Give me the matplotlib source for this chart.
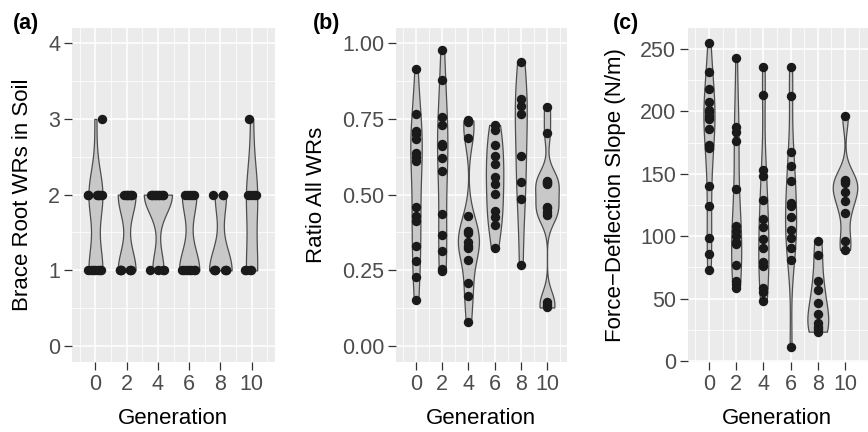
import numpy as np
import matplotlib
matplotlib.use("Agg")
import matplotlib.pyplot as plt
from matplotlib import cbook
from matplotlib.ticker import MultipleLocator, FormatStrFormatter

plt.rcParams['font.family'] = ['Liberation Sans', 'DejaVu Sans']

gens = [0, 2, 4, 6, 8, 10]

# (a) brace root WRs in soil, integer counts, jittered sideways
a_vals = [
    [1, 1, 1, 1, 1, 1, 1, 2, 2, 2, 2, 2, 2, 2, 3],
    [1, 1, 1, 1, 1, 1, 1, 2, 2, 2, 2, 2, 2, 2],
    [1, 1, 1, 1, 2, 2, 2, 2, 2, 2, 2, 2, 2, 2],
    [1, 1, 1, 1, 1, 1, 1, 2, 2, 2, 2, 2],
    [1, 1, 1, 1, 1, 1, 2, 2, 2],
    [1, 1, 1, 1, 2, 2, 2, 2, 3],
]
a_jit = [
    [-0.46, -0.30, -0.15, 0.0, 0.15, 0.28, 0.35, -0.47, -0.45, 0.13, 0.18, 0.25, 0.33, 0.41, 0.43],
    [-0.43, -0.40, -0.35, -0.38, 0.20, 0.23, 0.26, -0.14, -0.05, 0.0, 0.10, 0.20, 0.30, 0.35],
    [-0.49, 0.0, 0.33, 0.36, -0.46, -0.38, -0.30, -0.20, -0.10, 0.0, 0.10, 0.20, 0.30, 0.35],
    [-0.47, -0.30, -0.15, 0.0, 0.15, 0.30, 0.39, -0.25, -0.10, 0.05, 0.20, 0.32],
    [-0.38, -0.36, -0.34, 0.33, 0.36, 0.38, -0.47, 0.15, 0.17],
    [-0.39, -0.36, -0.10, -0.06, -0.21, -0.05, 0.15, 0.30, -0.17],
]

# (b) ratio all WRs
b_vals = [
    [0.914, 0.767, 0.71, 0.70, 0.683, 0.636, 0.623, 0.611, 0.46, 0.43, 0.414, 0.33, 0.282, 0.229, 0.152],
    [0.976, 0.879, 0.755, 0.73, 0.667, 0.66, 0.62, 0.579, 0.435, 0.367, 0.314, 0.253, 0.247],
    [0.745, 0.74, 0.686, 0.43, 0.381, 0.374, 0.344, 0.33, 0.323, 0.284, 0.209, 0.166, 0.08],
    [0.73, 0.714, 0.662, 0.626, 0.60, 0.559, 0.535, 0.501, 0.447, 0.425, 0.40, 0.323],
    [0.937, 0.815, 0.791, 0.765, 0.626, 0.541, 0.486, 0.268],
    [0.789, 0.704, 0.545, 0.541, 0.538, 0.535, 0.46, 0.455, 0.444, 0.433, 0.146, 0.135, 0.127],
]

# (c) force-deflection slope (N/m)
c_vals = [
    [254.6, 231.3, 217.9, 207.8, 201.4, 199.2, 196.5, 193.9, 186.1, 173.3, 170.6, 140.4, 124.3, 98.4, 85.8, 73.0],
    [242.8, 187.7, 183.2, 176.5, 138.0, 107.8, 104.3, 100.3, 95.7, 93.6, 76.7, 64.4, 61.8, 58.3],
    [235.3, 212.9, 152.7, 147.9, 129.2, 113.6, 107.2, 97.6, 90.4, 79.2, 76.2, 58.3, 55.1, 48.1],
    [235.6, 212.6, 167.1, 156.4, 144.4, 126.5, 124.3, 115.2, 105.1, 98.4, 90.4, 81.0, 11.5],
    [96.5, 84.8, 64.2, 57.0, 46.3, 37.4, 30.8, 27.5, 25.4, 23.5],
    [196.0, 144.9, 144.0, 142.5, 135.8, 128.4, 118.5, 96.5, 89.0],
]


def nrd0(x):
    sd = np.std(x, ddof=1)
    q75, q25 = np.percentile(x, [75, 25])
    lo = min(sd, (q75 - q25) / 1.34)
    if lo == 0:
        lo = sd if sd > 0 else 1.0
    return 0.9 * lo * len(x) ** -0.2


def kde(X, coords):
    bw = nrd0(X)
    z = (coords[:, None] - X[None, :]) / bw
    return np.exp(-0.5 * z ** 2).sum(axis=1) / (len(X) * bw * np.sqrt(2 * np.pi))


W, H = 868, 432


def make_ax(fig, left, right, top=28, bottom=362):
    return fig.add_axes([left / W, 1 - bottom / H, (right - left) / W, (bottom - top) / H])


def draw(ax, vals, jit=None):
    stats = cbook.violin_stats([np.asarray(v, float) for v in vals], kde, points=512)
    peaks = [s['vals'].max() for s in stats]
    widths = [1.8 * p / max(peaks) for p in peaks]
    parts = ax.violin(stats, positions=gens, widths=widths,
                      showmeans=False, showextrema=False, showmedians=False)
    for body in parts['bodies']:
        body.set_facecolor('#c8c8c8')
        body.set_edgecolor('#4d4d4d')
        body.set_linewidth(0.9)
        body.set_alpha(1)
        body.set_zorder(2)
    xs, ys = [], []
    for i, g in enumerate(gens):
        for j, v in enumerate(vals[i]):
            xs.append(g + (jit[i][j] if jit else 0))
            ys.append(v)
    ax.scatter(xs, ys, s=46, color='#1a1a1a', linewidths=0, zorder=3)


def style(ax, xlim, ylim, ymaj, ymin):
    ax.set_facecolor('#ebebeb')
    for sp in ax.spines.values():
        sp.set_visible(False)
    ax.set_xlim(*xlim)
    ax.set_ylim(*ylim)
    ax.xaxis.set_major_locator(MultipleLocator(2))
    ax.xaxis.set_minor_locator(MultipleLocator(1))
    ax.yaxis.set_major_locator(MultipleLocator(ymaj))
    ax.yaxis.set_minor_locator(MultipleLocator(ymin))
    ax.grid(which='major', color='white', linewidth=1.1)
    ax.grid(which='minor', color='white', linewidth=0.55)
    ax.set_axisbelow(True)
    ax.tick_params(which='major', direction='out', length=5.5, width=0.9,
                   color='#333333', labelcolor='#4d4d4d', labelsize=15.5, pad=3)
    ax.tick_params(which='minor', length=0)


fig = plt.figure(figsize=(W / 100, H / 100), dpi=100)

ax_a = make_ax(fig, 72, 275)
draw(ax_a, a_vals, a_jit)
style(ax_a, (-1.5, 11.5), (-0.21, 4.2), 1, 0.5)

ax_b = make_ax(fig, 396, 567)
draw(ax_b, b_vals)
style(ax_b, (-1.53, 11.53), (-0.053, 1.05), 0.25, 0.125)
ax_b.yaxis.set_major_formatter(FormatStrFormatter('%.2f'))

ax_c = make_ax(fig, 688, 868)
draw(ax_c, c_vals)
style(ax_c, (-1.54, 11.69), (-0.8, 266.8), 50, 25)

for x, lab in [(13, '(a)'), (313, '(b)'), (613, '(c)')]:
    fig.text(x / W, 1 - 23.5 / H, lab, ha='left', va='center',
             fontsize=15.5, fontweight='bold', color='black')

ylabels = [(23, 'Brace Root WRs in Soil'), (316, 'Ratio All WRs'),
           (615, 'Force\u2212Deflection Slope (N/m)')]
for x, lab in ylabels:
    fig.text(x / W, 1 - 195 / H, lab, rotation=90, ha='center', va='center',
             fontsize=16, color='black')

for cx in [173, 481, 777]:
    fig.text(cx / W, 1 - 419 / H, 'Generation', ha='center', va='center',
             fontsize=16, color='black')

fig.savefig('out.png', dpi=100)
